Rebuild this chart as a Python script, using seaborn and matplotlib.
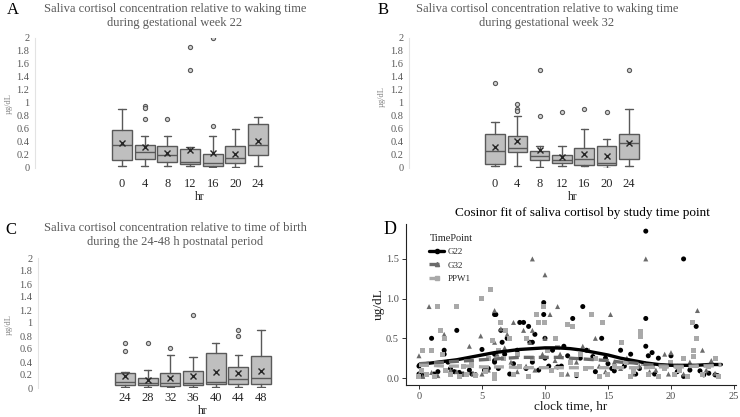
import numpy as np
import pandas as pd
import matplotlib
matplotlib.use("Agg")
import matplotlib.pyplot as plt
import seaborn as sns
from matplotlib.lines import Line2D

# ---- Panel A: week 22, hours after waking ----
a_hours = ["0", "4", "8", "12", "16", "20", "24"]
a_lo = [0.03, 0.03, 0.03, 0.03, 0.02, 0.02, 0.03]
a_q1 = [0.12, 0.14, 0.09, 0.06, 0.03, 0.07, 0.20]
a_med = [0.36, 0.25, 0.20, 0.09, 0.07, 0.16, 0.35]
a_q3 = [0.59, 0.36, 0.34, 0.29, 0.22, 0.34, 0.67]
a_hi = [0.90, 0.49, 0.49, 0.32, 0.49, 0.60, 0.79]
a_mean = [0.39, 0.32, 0.23, 0.28, 0.23, 0.21, 0.41]
a_out = [[], [0.95, 0.92, 0.75], [0.75], [1.86, 1.50], [2.0, 0.64], [], []]

# ---- Panel B: week 32, hours after waking ----
b_hours = ["0", "4", "8", "12", "16", "20", "24"]
b_lo = [0.03, 0.03, 0.01, 0.03, 0.03, 0.00, 0.03]
b_q1 = [0.06, 0.25, 0.13, 0.07, 0.04, 0.05, 0.14]
b_med = [0.26, 0.31, 0.19, 0.12, 0.14, 0.08, 0.38]
b_q3 = [0.53, 0.49, 0.26, 0.20, 0.31, 0.34, 0.52]
b_hi = [0.70, 0.80, 0.34, 0.34, 0.60, 0.45, 0.90]
b_mean = [0.32, 0.41, 0.28, 0.17, 0.22, 0.19, 0.39]
b_out = [[1.30], [0.99, 0.90, 0.87], [1.50, 0.80], [0.86], [0.91], [0.86], [1.50]]

# ---- Panel C: hours after birth ----
c_hours = ["24", "28", "32", "36", "40", "44", "48"]
c_lo = [0.01, 0.02, 0.01, 0.01, 0.01, 0.01, 0.01]
c_q1 = [0.04, 0.04, 0.03, 0.04, 0.06, 0.06, 0.06]
c_med = [0.10, 0.08, 0.08, 0.08, 0.10, 0.14, 0.16]
c_q3 = [0.23, 0.15, 0.23, 0.26, 0.54, 0.32, 0.49]
c_hi = [0.25, 0.27, 0.51, 0.47, 0.70, 0.51, 0.90]
c_mean = [0.18, 0.12, 0.15, 0.18, 0.25, 0.23, 0.26]
c_out = [[0.70, 0.57], [0.70], [0.61], [1.12], [], [0.90, 0.80], []]

# ---- Panel D: raw saliva cortisol by clock time ----
g22_hr = [0.0, 0.0, 0.0, 0.3, 1.0, 1.2, 1.5, 2.0, 2.0, 2.3, 2.5, 2.8, 3.0, 3.2, 3.5, 4.0,
          4.2, 4.5, 5.0, 5.2, 5.5, 6.0, 6.1, 6.0, 6.0, 6.0, 6.3, 6.5, 6.6, 6.8, 7.0, 7.2,
          7.5, 7.8, 8.0, 8.3, 8.5, 8.7, 8.8, 9.0, 9.0, 9.2, 9.5, 9.9, 9.9, 10.0, 10.0, 10.3,
          10.6, 11.0, 11.3, 11.5, 11.8, 12.2, 12.5, 12.8, 13.0, 13.3, 13.8, 14.0, 14.5, 14.8,
          15.0, 15.3, 15.5, 16.0, 16.3, 16.8, 17.2, 17.5, 18.0, 18.0, 18.0, 18.2, 18.5, 18.7,
          19.0, 19.5, 20.0, 20.5, 21.0, 21.0, 21.5, 22.0, 22.3, 22.6, 23.0, 23.5, 23.7]
g22_val = [0.15, 0.05, 0.02, 0.03, 0.50, 0.05, 0.08, 0.35, 0.30, 0.20, 0.12, 0.08, 0.60, 0.07,
           0.05, 0.10, 0.05, 0.04, 0.36, 0.10, 0.12, 0.80, 0.80, 0.30, 0.22, 0.20, 0.12, 0.60,
           0.45, 0.30, 0.50, 0.05, 0.18, 0.35, 0.70, 0.70, 0.12, 0.65, 0.45, 0.45, 0.20, 0.55,
           0.10, 0.95, 0.80, 0.50, 0.25, 0.15, 0.35, 0.14, 0.15, 0.40, 0.28, 0.75, 0.03, 0.25,
           0.90, 0.35, 0.27, 0.08, 0.50, 0.25, 0.18, 0.12, 0.09, 0.35, 0.15, 0.30, 0.05, 0.12,
           1.85, 0.75, 0.40, 0.28, 0.32, 0.05, 0.25, 0.12, 0.28, 0.08, 1.50, 0.02, 0.10, 0.65,
           0.09, 0.04, 0.06, 0.04, 0.03]
g32_hr = [0.0, 0.0, 0.3, 0.8, 1.0, 1.5, 2.0, 2.0, 2.5, 3.0, 3.5, 4.0, 4.3, 4.9, 5.0, 5.5,
          6.0, 6.0, 6.2, 6.5, 6.8, 7.0, 7.3, 7.5, 7.8, 8.3, 8.5, 8.8, 9.0, 9.0, 9.2, 9.8,
          10.0, 10.0, 10.4, 10.8, 11.0, 11.2, 11.8, 12.5, 13.0, 13.5, 14.0, 14.3, 14.8, 15.2,
          15.5, 16.0, 16.5, 17.0, 17.5, 18.0, 18.3, 18.8, 19.5, 19.8, 20.0, 20.5, 21.0, 21.5,
          22.1, 22.5, 22.8, 23.2, 23.5]
g32_val = [0.28, 0.05, 0.02, 0.90, 0.07, 0.03, 0.55, 0.50, 0.10, 0.08, 0.05, 0.40, 0.06, 0.53,
           0.05, 0.10, 0.85, 0.45, 0.30, 0.62, 0.38, 0.55, 0.20, 0.70, 0.08, 0.60, 0.15, 0.45,
           1.50, 0.60, 0.10, 0.30, 1.30, 0.50, 0.80, 0.22, 0.90, 0.30, 0.05, 0.20, 0.40, 0.35,
           0.50, 0.15, 0.08, 0.80, 0.20, 0.12, 0.25, 0.05, 0.15, 1.50, 0.08, 0.10, 0.30, 0.05,
           0.32, 0.15, 0.05, 0.20, 0.85, 0.35, 0.10, 0.22, 0.06]
ppw1_hr = [0.0, 0.2, 0.3, 0.6, 1.0, 1.2, 1.5, 1.7, 1.9, 2.0, 2.1, 2.5, 3.0, 3.2, 3.5, 3.8,
           4.2, 4.5, 5.0, 5.3, 5.5, 5.7, 5.8, 6.0, 6.0, 6.3, 6.5, 6.7, 6.9, 7.2, 7.5, 7.8,
           8.0, 8.5, 8.7, 9.0, 9.3, 9.5, 9.9, 10.0, 10.2, 10.5, 10.8, 11.0, 11.3, 11.8, 12.0,
           12.2, 12.5, 12.8, 13.2, 13.7, 14.0, 14.3, 14.6, 15.0, 15.5, 16.1, 16.5, 16.8, 17.0,
           17.6, 17.6, 17.8, 18.2, 18.5, 19.0, 19.5, 20.0, 20.3, 20.7, 21.0, 21.3, 21.7, 21.8,
           21.8, 22.0, 22.5, 23.0, 23.5, 23.8]
ppw1_val = [0.02, 0.10, 0.35, 0.05, 0.35, 0.02, 0.90, 0.60, 0.30, 0.50, 0.10, 0.04, 0.90, 0.02,
            0.15, 0.05, 0.20, 0.03, 1.00, 0.08, 0.25, 1.12, 0.47, 0.05, 0.00, 0.35, 0.70, 0.25,
            0.60, 0.50, 0.05, 0.30, 0.15, 0.50, 0.02, 0.25, 0.80, 0.70, 0.90, 0.70, 0.35, 0.10,
            0.50, 0.38, 0.05, 0.67, 0.20, 0.65, 0.05, 0.30, 0.12, 0.80, 0.25, 0.02, 0.70, 0.05,
            0.15, 0.45, 0.20, 0.02, 0.08, 0.58, 0.52, 0.18, 0.05, 0.15, 0.02, 0.12, 0.20, 0.05,
            0.10, 0.25, 0.02, 0.70, 0.35, 0.27, 0.50, 0.04, 0.15, 0.25, 0.02]

# cosinor fitted curves read at each clock hour
fit_hr = list(range(25))
fit_g22 = [0.17, 0.19, 0.21, 0.23, 0.26, 0.29, 0.32, 0.34, 0.36, 0.37, 0.38, 0.38, 0.37,
           0.35, 0.32, 0.29, 0.25, 0.22, 0.19, 0.17, 0.16, 0.16, 0.16, 0.17, 0.17]
fit_g32 = [0.18, 0.19, 0.20, 0.21, 0.22, 0.23, 0.24, 0.25, 0.26, 0.26, 0.26, 0.26, 0.25,
           0.24, 0.23, 0.22, 0.20, 0.19, 0.17, 0.16, 0.15, 0.15, 0.15, 0.16, 0.17]
fit_ppw1 = [0.16, 0.16, 0.15, 0.15, 0.15, 0.14, 0.14, 0.14, 0.13, 0.13, 0.13, 0.13, 0.13,
            0.13, 0.13, 0.13, 0.13, 0.13, 0.13, 0.14, 0.14, 0.14, 0.15, 0.15, 0.16]

groups = ["G22", "G32", "PPW1"]
grp_colors = {"G22": "#000000", "G32": "#6b6b6b", "PPW1": "#a9a9a9"}
grp_markers = {"G22": "o", "G32": "^", "PPW1": "s"}

sns.set_theme(style="white")
plt.rcParams["font.family"] = ["Liberation Serif", "DejaVu Serif"]

W, H = 740, 417
fig = plt.figure(figsize=(W / 100, H / 100), dpi=100)


def px_rect(left, top, right, bottom):
    return [left / W, 1 - bottom / H, (right - left) / W, (bottom - top) / H]


def box_panel(rect_px, first_px, step_px, cats, lo, q1, med, q3, hi, mean, outl, xpad):
    left, top, right, bottom = rect_px
    ax = fig.add_axes(px_rect(left, top, right, bottom))
    stats = []
    for i in range(len(cats)):
        stats.append(dict(whislo=lo[i], q1=q1[i], med=med[i], q3=q3[i],
                          whishi=hi[i], mean=mean[i], fliers=outl[i]))
    edge = "#595959"
    ax.bxp(stats, positions=range(len(cats)), widths=0.88, showmeans=True,
           patch_artist=True, capwidths=0.32,
           boxprops=dict(facecolor="#bfbfbf", edgecolor=edge, lw=1.0),
           medianprops=dict(color=edge, lw=1.0),
           whiskerprops=dict(color=edge, lw=1.0),
           capprops=dict(color=edge, lw=1.0),
           meanprops=dict(marker="x", markeredgecolor="#262626", markersize=5, markeredgewidth=1.0),
           flierprops=dict(marker="o", markersize=3, markerfacecolor="#d0d0d0",
                           markeredgecolor="#595959", markeredgewidth=0.8))
    ax.set_xlim((left - first_px) / step_px, (right - first_px) / step_px)
    ax.set_ylim(0, 2)
    yt = np.arange(0, 2.01, 0.2)
    ax.set_yticks(yt)
    ax.set_yticklabels([("%g" % round(v, 1)) for v in yt], fontsize=7.5, color="#595959")
    ax.set_xticks(range(len(cats)))
    ax.set_xticklabels(cats, fontsize=9, color="#262626")
    ax.tick_params(axis="y", length=0, pad=4)
    ax.tick_params(axis="x", length=0, pad=xpad)
    for s in ["top", "right", "bottom"]:
        ax.spines[s].set_visible(False)
    ax.spines["left"].set_color("#e3e3e3")
    ax.spines["left"].set_linewidth(0.8)
    ax.set_facecolor("none")
    return ax


box_panel((35, 38, 345, 168), 122, 22.67, a_hours, a_lo, a_q1, a_med, a_q3, a_hi, a_mean, a_out, 7)
box_panel((409, 38, 719, 168), 495, 22.33, b_hours, b_lo, b_q1, b_med, b_q3, b_hi, b_mean, b_out, 7)
box_panel((38, 258, 345, 388), 125, 22.67, c_hours, c_lo, c_q1, c_med, c_q3, c_hi, c_mean, c_out, 3)

title_kw = dict(fontsize=9, color="#595959", ha="center", va="center", linespacing=1.2)
fig.text(175 / W, 1 - 16 / H, "Saliva cortisol concentration relative to waking time\n"
         "during gestational week 22", **title_kw)
fig.text(547 / W, 1 - 16 / H, "Saliva cortisol concentration relative to waking time\n"
         "during gestational week 32", **title_kw)
fig.text(175 / W, 1 - 235 / H, "Saliva cortisol concentration relative to time of birth\n"
         "during the 24-48 h postnatal period", **title_kw)

for lab, x, y in [("A", 13, 10), ("B", 383, 10), ("C", 11, 230)]:
    fig.text(x / W, 1 - y / H, lab, fontsize=12, color="black", ha="center", va="center")

for x, y in [(200, 197), (573, 197), (203, 411)]:
    fig.text(x / W, 1 - y / H, "hr", fontsize=8.5, color="#262626", ha="center", va="center")
for x, y in [(9, 104), (382, 97), (9, 325)]:
    fig.text(x / W, 1 - y / H, "µg/dL", fontsize=6, color="#7f7f7f", ha="center",
             va="center", rotation=90)

# ---- Panel D ----
axd = fig.add_axes(px_rect(406, 224, 736, 385))
pts = pd.concat([
    pd.DataFrame({"hr": g22_hr, "val": g22_val, "TimePoint": "G22"}),
    pd.DataFrame({"hr": g32_hr, "val": g32_val, "TimePoint": "G32"}),
    pd.DataFrame({"hr": ppw1_hr, "val": ppw1_val, "TimePoint": "PPW1"}),
])
fits = pd.concat([
    pd.DataFrame({"hr": fit_hr, "fit": fit_g22, "TimePoint": "G22"}),
    pd.DataFrame({"hr": fit_hr, "fit": fit_g32, "TimePoint": "G32"}),
    pd.DataFrame({"hr": fit_hr, "fit": fit_ppw1, "TimePoint": "PPW1"}),
])
sns.scatterplot(data=pts, x="hr", y="val", hue="TimePoint", style="TimePoint",
                palette=grp_colors, markers=grp_markers, s=13, linewidth=0,
                legend=False, ax=axd, zorder=2)
sns.lineplot(data=fits, x="hr", y="fit", hue="TimePoint", style="TimePoint",
             palette=grp_colors, dashes={"G22": "", "G32": (3, 1.5), "PPW1": (3, 1.5)},
             linewidth=2.4, legend=False, ax=axd, zorder=3)
axd.set_xlim(-1.03, 25.16)
axd.set_ylim(-0.088, 1.94)
axd.set_xticks([0, 5, 10, 15, 20, 25])
axd.set_yticks([0.0, 0.5, 1.0, 1.5])
axd.set_yticklabels(["0.0", "0.5", "1.0", "1.5"])
axd.tick_params(axis="both", length=3, width=0.7, color="#333333", labelsize=7.5,
                labelcolor="#4d4d4d", pad=2, bottom=True, left=True)
for s in ["top", "right"]:
    axd.spines[s].set_visible(False)
for s in ["left", "bottom"]:
    axd.spines[s].set_color("#222222")
    axd.spines[s].set_linewidth(0.8)
axd.set_xlabel("clock time, hr", fontsize=9.5, color="#1a1a1a", labelpad=0)
axd.set_ylabel("ug/dL", fontsize=9.5, color="#1a1a1a", labelpad=1)

handles = []
for g, ls in zip(groups, ["-", (0, (3, 1.5)), (0, (3, 1.5))]):
    handles.append(Line2D([0], [0], color=grp_colors[g], lw=2.4, linestyle=ls,
                          marker=grp_markers[g], markersize=3))
leg = axd.legend(handles, groups, title="TimePoint", loc="upper left",
                 bbox_to_anchor=(0.06, 0.96), frameon=False, fontsize=6.5,
                 title_fontsize=7.5, handlelength=1.6, handletextpad=0.4,
                 labelspacing=0.55, borderaxespad=0)
leg._legend_box.align = "left"

fig.text(582 / W, 1 - 213 / H, "Cosinor fit of saliva cortisol by study time point",
         fontsize=9.5, color="black", ha="center", va="center")
fig.text(390 / W, 1 - 229 / H, "D", fontsize=13, color="black", ha="center", va="center")

fig.savefig("out.png", dpi=100, facecolor="white")
